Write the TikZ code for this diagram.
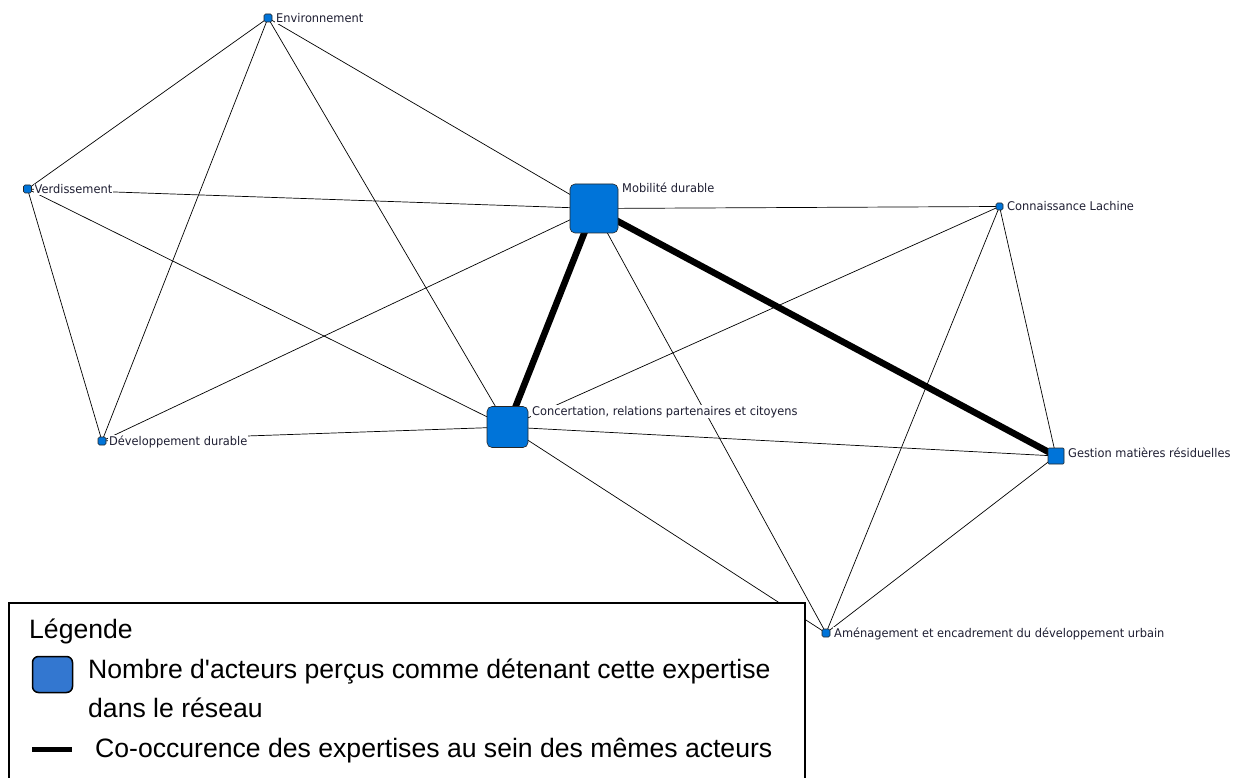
\documentclass[tikz,border=0pt]{standalone}
\usepackage{fontspec}
\setmainfont{Liberation Sans}
\newfontfamily\labfont{DejaVu Sans}[FakeStretch=0.95]
\usetikzlibrary{calc}
\pgfdeclarelayer{edges}
\pgfsetlayers{edges,main}
\definecolor{nodeblue}{RGB}{0,116,217}
\definecolor{legblue}{RGB}{51,119,208}
\definecolor{labtext}{RGB}{30,30,50}

\begin{document}
\begin{tikzpicture}[x=1pt,y=-1pt,
  expert/.style={draw=black!85, line width=0.6pt, fill=nodeblue, inner sep=0pt,
    outer sep=0pt, rounded corners=1.5pt, minimum size=8pt},
  hub/.style={expert, rounded corners=5pt},
  lab/.style={fill=white, inner sep=1pt, text=labtext,
    font=\labfont\fontsize{12}{14}\selectfont, anchor=base west},
  tie/.style={line width=0.7pt, black},
  strongtie/.style={line width=6.5pt, black},
  legtext/.style={font=\fontsize{26.6}{30}\selectfont, inner sep=0pt,
    anchor=base west, text=black},
]
\useasboundingbox (0,0) rectangle (1237,778);

% expertise nodes (size = number of actors)
\node[hub, minimum width=48pt, minimum height=49pt] (mob) at (594,208.5) {};
\node[hub, minimum size=41pt] (conc) at (507.5,427) {};
\node[expert] (env) at (268,18) {};
\node[expert] (verd) at (27.5,189) {};
\node[expert, minimum size=7pt] (conn) at (999.5,206.5) {};
\node[expert, minimum size=16pt, rounded corners=1pt] (gest) at (1056,456) {};
\node[expert] (dev) at (102,441) {};
\node[expert] (amen) at (826,633) {};

% co-occurrence ties
\begin{pgfonlayer}{edges}
  \draw[tie] (env.center) -- (verd.center);
  \draw[tie] (env.center) -- (dev.center);
  \draw[tie] (env.center) -- (mob.center);
  \draw[tie] (env.center) -- (conc.center);
  \draw[tie] (verd.center) -- (mob.center);
  \draw[tie] (verd.center) -- (dev.center);
  \draw[tie] (verd.center) -- (conc.center);
  \draw[tie] (mob.center) -- (conn.center);
  \draw[tie] (mob.center) -- (dev.center);
  \draw[tie] (mob.center) -- (amen.center);
  \draw[tie] (conc.center) -- (conn.center);
  \draw[tie] (conc.center) -- (dev.center);
  \draw[tie] (conc.center) -- (gest.center);
  \draw[tie] (conc.center) -- (amen.center);
  \draw[tie] (conn.center) -- (amen.center);
  \draw[tie] (conn.center) -- (gest.center);
  \draw[tie] (gest.center) -- (amen.center);
  \draw[strongtie] (mob.center) -- (conc.center);
  \draw[strongtie] (mob.center) -- (gest.center);
\end{pgfonlayer}

% node labels
\node[lab] (envl) at ($(env.north east)+(3,8.7)$) {Environnement};
\node[lab] (verdl) at ($(verd.north east)+(2,8.7)$) {Verdissement};
\node[lab] (mobl) at ($(mob.north east)+(3,8.5)$) {Mobilité durable};
\node[lab] (concl) at ($(conc.north east)+(3,8.5)$) {Concertation, relations partenaires et citoyens};
\node[lab] (connl) at ($(conn.north east)+(3,8)$) {Connaissance Lachine};
\node[lab] (gestl) at ($(gest.north east)+(3,9)$) {Gestion matières résiduelles};
\node[lab] (devl) at ($(dev.north east)+(2,8.7)$) {Développement durable};
\node[lab] (amenl) at ($(amen.north east)+(3,8.7)$) {Aménagement et encadrement du développement urbain};

% legend
\node[draw=black, line width=1.5pt, fill=white, inner sep=0pt, anchor=north west,
  minimum width=796pt, minimum height=200pt] (legendbox) at (8,602) {};
\node[legtext] (legtitle) at (29,638) {Légende};
\node[draw=black, line width=1.5pt, fill=legblue, rounded corners=6pt, inner sep=0pt,
  minimum width=40pt, minimum height=36pt] (legsq) at (52.5,674.5) {};
\node[legtext] (legsize1) at (88,678) {Nombre d\textquotesingle acteurs perçus comme détenant cette expertise};
\node[legtext] (legsize2) at (88,717) {dans le réseau};
\coordinate (legls) at (32,749.5);
\coordinate (legle) at (72,749.5);
\draw[line width=5pt] (legls) -- (legle);
\node[legtext] (legtie) at (95,757) {Co-occurence des expertises au sein des mêmes acteurs};
\end{tikzpicture}
\end{document}
